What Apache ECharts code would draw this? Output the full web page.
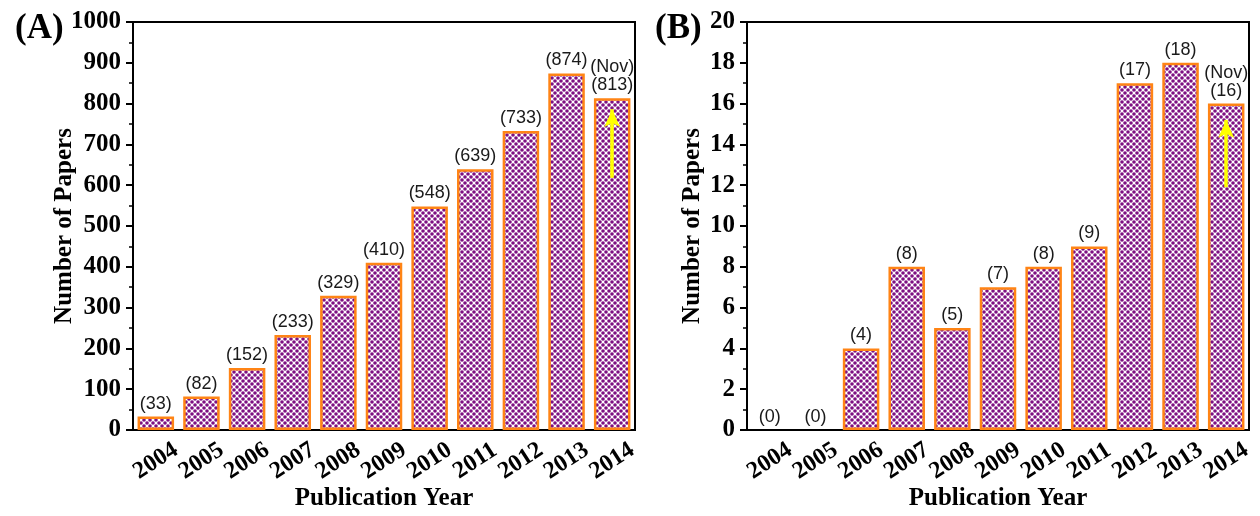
<!DOCTYPE html>
<html>
<head>
<meta charset="utf-8">
<script src="https://cdn.jsdelivr.net/npm/echarts@6/dist/echarts.min.js"></script>
<style>
  html, body { margin: 0; padding: 0; background: #fff; }
  #main { width: 1260px; height: 516px; }
</style>
</head>
<body>
<div id="main"></div>
<script>
// data
var years = ["2004", "2005", "2006", "2007", "2008", "2009", "2010", "2011", "2012", "2013", "2014"];
var papersA = [33, 82, 152, 233, 329, 410, 548, 639, 733, 874, 813];
var papersB = [0, 0, 4, 8, 5, 7, 8, 9, 17, 18, 16];
var arrowA = [618, 786];
var arrowB = [11.9, 15.2];
var lastNote = "(Nov)";

// hatch pattern for the bars
var tile = document.createElement("canvas");
tile.width = 6;
tile.height = 6;
var ctx = tile.getContext("2d");
ctx.fillStyle = "#ffffff";
ctx.fillRect(0, 0, 6, 6);
ctx.fillStyle = "#7d0f82";
[[0, 0], [6, 0], [0, 6], [6, 6], [3, 3]].forEach(function (p) {
  ctx.beginPath();
  ctx.arc(p[0], p[1], 1.8, 0, Math.PI * 2);
  ctx.fill();
});

var serif = "'Liberation Serif', 'Times New Roman', serif";
var sans = "'Liberation Sans', Arial, sans-serif";

var myChart = echarts.init(document.getElementById("main"));

function makeGrid(left) {
  return {
    left: left, top: 22, width: 502, height: 408,
    show: true, borderColor: "#000", borderWidth: 2,
    outerBoundsMode: "none", containLabel: false
  };
}

function makeX(idx) {
  return {
    type: "category",
    gridIndex: idx,
    data: years,
    name: "Publication Year",
    nameLocation: "middle",
    nameGap: 56,
    nameMoveOverlap: false,
    nameTextStyle: { fontFamily: serif, fontWeight: "bold", fontSize: 25, color: "#000" },
    axisLine: { lineStyle: { color: "#000", width: 2 } },
    axisTick: { alignWithLabel: true, length: 7, lineStyle: { color: "#000", width: 2 } },
    axisLabel: {
      interval: 0, rotate: 33, margin: 31, align: "center", verticalAlign: "middle",
      fontFamily: serif, fontWeight: "bold", fontSize: 24, color: "#000"
    },
    splitLine: { show: false }
  };
}

function makeY(idx, max, step, gap) {
  return {
    type: "value",
    gridIndex: idx,
    min: 0, max: max, interval: step,
    name: "Number of Papers",
    nameLocation: "middle",
    nameGap: gap,
    nameMoveOverlap: false,
    nameTextStyle: { fontFamily: serif, fontWeight: "bold", fontSize: 25, color: "#000" },
    axisLine: { show: true, lineStyle: { color: "#000", width: 2 } },
    axisTick: { show: true, length: 7, lineStyle: { color: "#000", width: 2 } },
    minorTick: { show: true, splitNumber: 2, length: 4, lineStyle: { color: "#000", width: 1.5 } },
    axisLabel: {
      margin: 12, fontFamily: serif, fontWeight: "bold", fontSize: 25, color: "#000",
      formatter: function (v) { return String(v); }
    },
    splitLine: { show: false }
  };
}

function makeBars(idx, values, arrow) {
  return {
    type: "bar",
    xAxisIndex: idx, yAxisIndex: idx,
    // zero-height bars get no outline
    data: values.map(function (v) {
      return v === 0 ? { value: v, itemStyle: { borderWidth: 0 } } : v;
    }),
    barCategoryGap: "20%",
    itemStyle: {
      color: { image: tile, repeat: "repeat" },
      borderColor: "#ff8415",
      borderWidth: 2.5
    },
    label: {
      show: true, position: "top", distance: 4,
      fontFamily: sans, fontSize: 18, color: "#1a1a1a", lineHeight: 18,
      formatter: function (p) {
        var s = "(" + p.value + ")";
        return p.dataIndex === values.length - 1 ? lastNote + "\n" + s : s;
      }
    },
    markLine: {
      silent: true,
      symbol: ["none", "arrow"],
      symbolSize: [12, 18],
      label: { show: false },
      lineStyle: { color: "#ffff00", width: 3.5, type: "solid" },
      data: [[
        { coord: [years[years.length - 1], arrow[0]] },
        { coord: [years[years.length - 1], arrow[1]] }
      ]]
    }
  };
}

var option = {
  animation: false,
  backgroundColor: "#fff",
  title: [
    { text: "(A)", left: 10, top: 6, textStyle: { fontFamily: serif, fontWeight: "bold", fontSize: 35, color: "#000" } },
    { text: "(B)", left: 650, top: 6, textStyle: { fontFamily: serif, fontWeight: "bold", fontSize: 35, color: "#000" } }
  ],
  grid: [makeGrid(133), makeGrid(747)],
  xAxis: [makeX(0), makeX(1)],
  yAxis: [makeY(0, 1000, 100, 56), makeY(1, 20, 2, 42)],
  series: [makeBars(0, papersA, arrowA), makeBars(1, papersB, arrowB)]
};

myChart.setOption(option);
</script>
</body>
</html>
